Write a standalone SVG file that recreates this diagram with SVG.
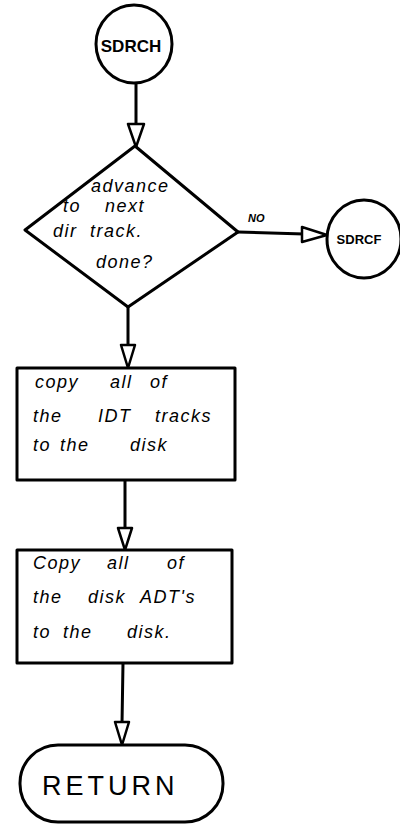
<svg xmlns="http://www.w3.org/2000/svg" width="400" height="828" viewBox="0 0 400 828">
  <style>
    .shape { fill: #fff; stroke: #000; stroke-width: 3; stroke-linejoin: round; }
    .line { fill: none; stroke: #000; stroke-width: 3; stroke-linecap: round; }
    .head { fill: #fff; stroke: #000; stroke-width: 2.5; stroke-linejoin: round; }
    .hand { font-family: "Liberation Sans", "DejaVu Sans", sans-serif; font-style: italic; font-size: 18px; letter-spacing: 1.5px; fill: #000; }
    .label { font-family: "Liberation Sans", "DejaVu Sans", sans-serif; font-weight: bold; fill: #000; text-anchor: middle; }
  </style>
  <rect width="400" height="828" fill="#fff"/>

  <g id="connectors">
    <!-- SDRCH to decision -->
    <line class="line" x1="136" y1="83" x2="136" y2="126"/>
    <polygon class="head" points="128,124 144,124 136,147"/>
    <!-- decision NO branch to SDRCF -->
    <line class="line" x1="238" y1="232" x2="304" y2="234"/>
    <polygon class="head" points="302,227 302,242 327,235"/>
    <!-- decision to first copy step -->
    <line class="line" x1="128" y1="307" x2="128" y2="347"/>
    <polygon class="head" points="121,345 135,345 128,368"/>
    <!-- first copy step to second -->
    <line class="line" x1="125" y1="480" x2="125" y2="530"/>
    <polygon class="head" points="118,528 132,528 125,550"/>
    <!-- second copy step to return -->
    <line class="line" x1="123" y1="663" x2="122" y2="724"/>
    <polygon class="head" points="115,722 129,722 122,745"/>
    <text class="hand" x="248" y="222" style="font-size:11px; font-weight:bold; letter-spacing:0">NO</text>
  </g>

  <g id="sdrch">
    <ellipse class="shape" cx="134" cy="44" rx="38" ry="39"/>
    <text class="label" x="131" y="52" font-size="17">SDRCH</text>
  </g>

  <g id="decision">
    <polygon class="shape" points="135,146 238,232 128,307 25,230"/>
    <text class="hand"><tspan x="91" y="192">advance</tspan></text>
    <text class="hand"><tspan x="63" y="212">to</tspan><tspan x="105" y="212">next</tspan></text>
    <text class="hand"><tspan x="53" y="237">dir</tspan><tspan x="90" y="237">track.</tspan></text>
    <text class="hand"><tspan x="96" y="268">done?</tspan></text>
  </g>

  <g id="sdrcf">
    <ellipse class="shape" cx="364" cy="239" rx="37" ry="39"/>
    <text class="label" x="359" y="244" font-size="13">SDRCF</text>
  </g>

  <g id="copy-idt">
    <rect class="shape" x="17" y="368" width="218" height="112"/>
    <text class="hand"><tspan x="35" y="388">copy</tspan><tspan x="110" y="388">all</tspan><tspan x="150" y="388">of</tspan></text>
    <text class="hand"><tspan x="33" y="422">the</tspan><tspan x="98" y="422">IDT</tspan><tspan x="155" y="422">tracks</tspan></text>
    <text class="hand"><tspan x="33" y="451">to</tspan><tspan x="60" y="451">the</tspan><tspan x="130" y="451">disk</tspan></text>
  </g>

  <g id="copy-adt">
    <rect class="shape" x="17" y="550" width="215" height="113"/>
    <text class="hand"><tspan x="33" y="569">Copy</tspan><tspan x="107" y="569">all</tspan><tspan x="167" y="569">of</tspan></text>
    <text class="hand"><tspan x="33" y="603">the</tspan><tspan x="88" y="603">disk</tspan><tspan x="140" y="603">ADT's</tspan></text>
    <text class="hand"><tspan x="33" y="638">to</tspan><tspan x="63" y="638">the</tspan><tspan x="127" y="638">disk.</tspan></text>
  </g>

  <g id="return">
    <rect class="shape" x="20" y="745" width="203" height="77" rx="38" ry="38"/>
    <text class="hand" x="42" y="795" style="font-size:27px; font-style:normal; letter-spacing:4px">RETURN</text>
  </g>
</svg>
